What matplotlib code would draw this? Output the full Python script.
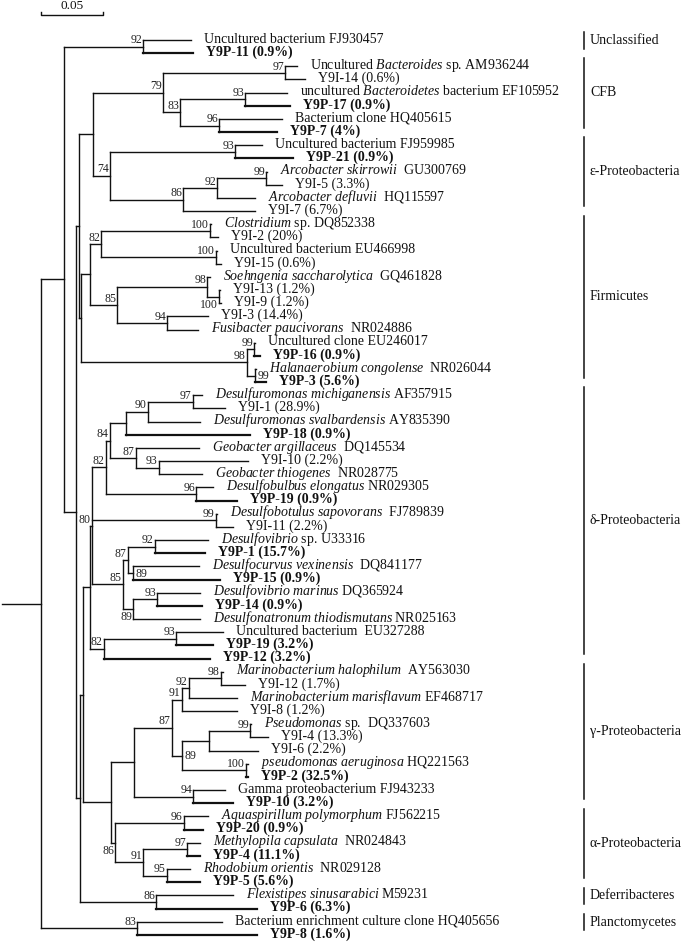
import re
import matplotlib.pyplot as plt
from matplotlib.collections import LineCollection

plt.rcParams['font.family'] = ['Liberation Serif', 'DejaVu Serif']
plt.rcParams['mathtext.fontset'] = 'custom'
plt.rcParams['mathtext.rm'] = 'Liberation Serif'
plt.rcParams['mathtext.it'] = 'Liberation Serif:italic'
plt.rcParams['mathtext.bf'] = 'Liberation Serif:bold'

# ---- tree data: newick pieces, branch lengths in substitutions/site, bootstrap as node label
unclassified = "(:0.0387,:0.0403)92:0.0637"
cfb = ("((:0.0097,:0.0161)97:0.0984,((:0.0339,:0.0363)93:0.0524,"
       "(:0.0508,:0.0468)96:0.0315)83:0.0137)79:0.0565")
epsilon = ("((:0.0218,:0.0468)93:0.1008,(((:0.0008,:0.0129)99:0.0395,:0.0306)92:0.0274,"
           ":0.0581)86:0.0589)74:0.0137")
firmicutes = ("(((:0.0008,:0.0065)100:0.0879,(:0.0008,:0.0040)100:0.0927)82:0.0089,"
              "((:0.0024,(:0.0008,:0.0016)100:0.0097)98:0.0726,(:0.0331,:0.0250)94:0.0403)85:0.0218):0.0073")
halanaerobium = "((:0.0008,:0.0048)99:0.0056,(:0.0008,:0.0089)99:0.0065)98:0.1339"
delta_a = ("((((:0.0073,:0.0258)97:0.0363,:0.0419)90:0.0177,:0.1000):0.0129,"
           "(:0.0508,(:0.0718,:0.0347)93:0.0185)87:0.0210)84:0.0032")
delta_b = "(:0.0137,:0.0331)96:0.0726"
delta_c = "(:0.0008,:0.0137)99:0.1000"
delta_d = ("(((:0.0427,:0.0403)92:0.0218,(:0.0532,:0.0702)89:0.0040)87:0.0040,"
           "((:0.0347,:0.0363)93:0.0194,:0.0540)89:0.0081)85:0.0250")
delta_e = "((:0.0379,:0.0298)93:0.0581,:0.0855)82:0.0113"
gamma = ("(((((:0.0016,:0.0194)98:0.0258,:0.0387)92:0.0056,:0.0444)91:0.0081,"
         "(((:0.0008,:0.0145)99:0.0331,:0.0395):0.0218,(:0.0016,:0.0016)100:0.0516)89:0.0081)87:0.0306,"
         "(:0.0258,:0.0323)94:0.0476):0.0185")
alpha = ("((:0.0194,:0.0153)96:0.0556,((:0.0105,:0.0105)97:0.0355,"
         "(:0.0185,:0.0266)95:0.0194)91:0.0226)86:0.0032")
deferri = "(:0.0621,:0.0815)86:0.0613"
plancto = "(:0.0685,:0.0968)83:0.0774"

delta = f"((({delta_a},{delta_b})82:0.0113,{delta_c},{delta_d})80:0.0016,{delta_e}):0.0056"
lower = f"(({delta},({gamma},{alpha}):0.0226):0.0024,{deferri}):0.0032"
upper = f"(({cfb},{epsilon}):0.0113,({firmicutes},{halanaerobium}):0.0016):0.0024"
newick = f"(({unclassified},({upper},{lower}):0.0097):0.0185,{plancto}):0.0315;"

leaf_labels = [
    "Uncultured bacterium FJ930457", "Y9P-11 (0.9%)",
    "Uncultured *Bacteroides* sp. AM936244", "Y9I-14 (0.6%)",
    "uncultured *Bacteroidetes* bacterium EF105952", "Y9P-17 (0.9%)",
    "Bacterium clone HQ405615", "Y9P-7 (4%)",
    "Uncultured bacterium FJ959985", "Y9P-21 (0.9%)",
    "*Arcobacter skirrowii*  GU300769", "Y9I-5 (3.3%)",
    "*Arcobacter defluvii*  HQ115597", "Y9I-7 (6.7%)",
    "*Clostridium* sp. DQ852338", "Y9I-2 (20%)",
    "Uncultured bacterium EU466998", "Y9I-15 (0.6%)",
    "*Soehngenia saccharolytica*  GQ461828", "Y9I-13 (1.2%)", "Y9I-9 (1.2%)",
    "Y9I-3 (14.4%)", "*Fusibacter paucivorans*  NR024886",
    "Uncultured clone EU246017", "Y9P-16 (0.9%)",
    "*Halanaerobium congolense*  NR026044", "Y9P-3 (5.6%)",
    "*Desulfuromonas michiganensis* AF357915", "Y9I-1 (28.9%)",
    "*Desulfuromonas svalbardensis* AY835390", "Y9P-18 (0.9%)",
    "*Geobacter argillaceus*  DQ145534", "Y9I-10 (2.2%)",
    "*Geobacter thiogenes*  NR028775",
    "*Desulfobulbus elongatus* NR029305", "Y9P-19 (0.9%)",
    "*Desulfobotulus sapovorans*  FJ789839", "Y9I-11 (2.2%)",
    "*Desulfovibrio* sp. U33316", "Y9P-1 (15.7%)",
    "*Desulfocurvus vexinensis*  DQ841177", "Y9P-15 (0.9%)",
    "*Desulfovibrio marinus* DQ365924", "Y9P-14 (0.9%)",
    "*Desulfonatronum thiodismutans* NR025163",
    "Uncultured bacterium  EU327288", "Y9P-19 (3.2%)", "Y9P-12 (3.2%)",
    "*Marinobacterium halophilum*  AY563030", "Y9I-12 (1.7%)",
    "*Marinobacterium marisflavum* EF468717", "Y9I-8 (1.2%)",
    "*Pseudomonas* sp.  DQ337603", "Y9I-4 (13.3%)", "Y9I-6 (2.2%)",
    "*pseudomonas aeruginosa* HQ221563", "Y9P-2 (32.5%)",
    "Gamma proteobacterium FJ943233", "Y9P-10 (3.2%)",
    "*Aquaspirillum polymorphum* FJ562215", "Y9P-20 (0.9%)",
    "*Methylopila capsulata*  NR024843", "Y9P-4 (11.1%)",
    "*Rhodobium orientis*  NR029128", "Y9P-5 (5.6%)",
    "*Flexistipes sinusarabici* M59231", "Y9P-6 (6.3%)",
    "Bacterium enrichment culture clone HQ405656", "Y9P-8 (1.6%)",
]

groups = ["Unclassified", "CFB", "ε-Proteobacteria", "Firmicutes", "δ-Proteobacteria",
          "γ-Proteobacteria", "α-Proteobacteria", "Deferribacteres", "Planctomycetes"]
group_first = [0, 2, 8, 14, 27, 48, 59, 65, 67]
group_last = [1, 7, 13, 26, 47, 58, 64, 66, 68]

scale_length = 0.05

# bootstrap label placement exceptions, keyed by (first leaf, last leaf)
label_side = {(25, 26): 'r', (40, 41): 'r', (52, 56): 'r',
              (42, 44): 'b', (19, 20): 'b', (59, 64): 'b'}


def parse(s):
    pos = 0

    def node():
        nonlocal pos
        kids = []
        if s[pos] == '(':
            pos += 1
            kids.append(node())
            while s[pos] == ',':
                pos += 1
                kids.append(node())
            pos += 1
        m = re.match(r'([^:,();]*)(?::([\d.]+))?', s[pos:])
        pos += m.end()
        return {'kids': kids, 'support': m.group(1), 'len': float(m.group(2) or 0)}
    return node()


root = parse(newick)
counter = iter(range(len(leaf_labels)))


def layout(n, x0):
    n['x0'] = x0
    n['x'] = x0 + n['len']
    if not n['kids']:
        n['leaf'] = next(counter)
        n['y'] = n['first'] = n['last'] = n['leaf']
    else:
        for k in n['kids']:
            layout(k, n['x'])
        n['y'] = (n['kids'][0]['y'] + n['kids'][-1]['y']) / 2
        n['first'] = n['kids'][0]['first']
        n['last'] = n['kids'][-1]['last']


layout(root, -root['len'])

PX = 1 / 1240.0      # data units per pixel horizontally
ROW = 13.16          # pixels per leaf row

fig = plt.figure(figsize=(6.85, 9.43), dpi=100)
ax = fig.add_axes([0, 0, 1, 1])
ax.set_xlim(-41 * PX, 644 * PX)
ax.set_ylim((943 - 40) / ROW, -40 / ROW)
ax.axis('off')

thin, thick = [], []
nodes = []


def collect(n):
    nodes.append(n)
    seg = [(n['x0'], n['y']), (n['x'], n['y'])]
    if not n['kids'] and leaf_labels[n['leaf']].startswith('Y9P'):
        thick.append(seg)
    else:
        thin.append(seg)
    if n['kids']:
        thin.append([(n['x'], n['kids'][0]['y']), (n['x'], n['kids'][-1]['y'])])
        for k in n['kids']:
            collect(k)


collect(root)
ax.add_collection(LineCollection(thin, colors='#111111', linewidths=1.0, capstyle='projecting'))
ax.add_collection(LineCollection(thick, colors='#111111', linewidths=1.6, capstyle='projecting'))


def to_math(label):
    parts = label.split('*')
    out = ''
    for i, p in enumerate(parts):
        if i % 2 == 1:
            out += r'$\mathit{' + p.replace(' ', r'\ ') + '}$'
        else:
            out += p
    return out


for n in nodes:
    if not n['kids']:
        lab = leaf_labels[n['leaf']]
        bold = lab.startswith('Y9P')
        ax.text(n['x'] + 13 * PX, n['y'] + 0.2, to_math(lab), fontsize=10,
                fontweight='bold' if bold else 'normal', ha='left', va='baseline',
                color='#111111')
    elif n['support']:
        side = label_side.get((n['first'], n['last']), 'a')
        if side == 'r':
            ax.text(n['x'] + 3 * PX, n['y'] + 0.05, n['support'], fontsize=8.5,
                    ha='left', va='center', color='#222222')
        elif side == 'b':
            ax.text(n['x'] - 1 * PX, n['y'] + 0.15, n['support'], fontsize=8.5,
                    ha='right', va='top', color='#222222')
        else:
            ax.text(n['x'] - 1 * PX, n['y'] - 0.25, n['support'], fontsize=8.5,
                    ha='right', va='baseline', color='#222222')

# clade bars on the right
bar_x = (584 - 41) * PX
for name, a, b in zip(groups, group_first, group_last):
    y0, y1 = a - 0.6, b - 0.35
    ax.plot([bar_x, bar_x], [y0, y1], color='#111111', lw=1.1)
    ax.text(bar_x + 6 * PX, (y0 + y1) / 2, name, fontsize=10, ha='left', va='center',
            color='#111111')

# scale bar
sy = (15 - 40) / ROW
ax.plot([0, 0, scale_length, scale_length], [sy - 0.25, sy, sy, sy - 0.25],
        color='#111111', lw=1.0)
ax.text(scale_length / 2, sy - 0.65, f"{scale_length:.2f}", fontsize=9.5,
        ha='center', va='center', color='#111111')

fig.savefig('out.png', dpi=100)
